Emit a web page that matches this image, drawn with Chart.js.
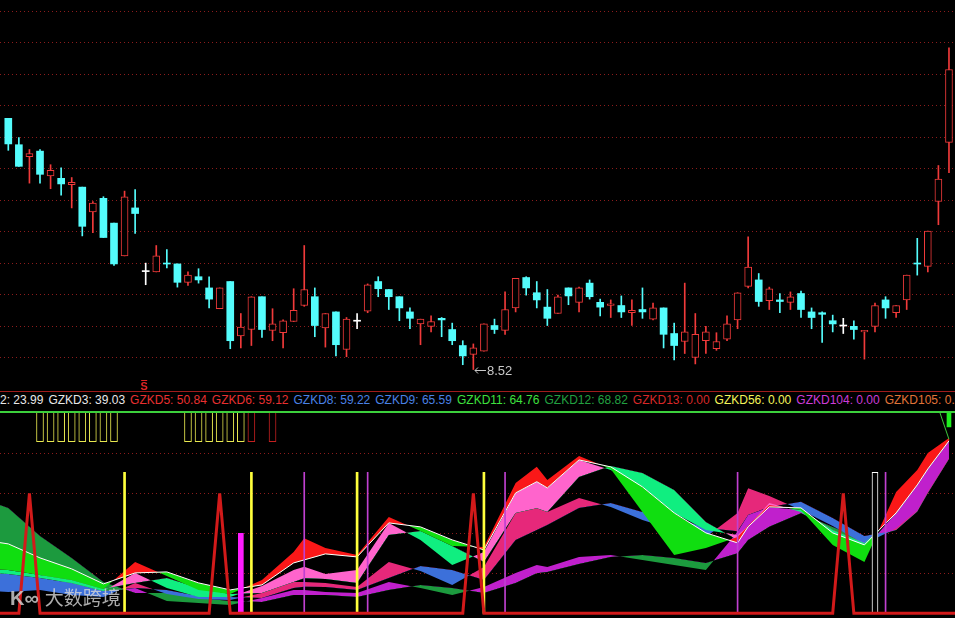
<!DOCTYPE html>
<html>
<head>
<meta charset="utf-8">
<title>GZKD</title>
<script src="https://cdn.jsdelivr.net/npm/chart.js@4.4.1/dist/chart.umd.min.js"></script>
<style>
  html, body { margin: 0; padding: 0; background: #000; width: 955px; height: 618px; overflow: hidden; }
  canvas { position: absolute; left: 0; display: block; }
  #price { top: 0; }
  #ind { top: 413px; }
  .rule { position: absolute; left: 0; width: 955px; }
  #legend { position: absolute; left: 0; top: 393px; width: 955px; height: 15px; overflow: hidden;
            display: flex; gap: 5px; white-space: nowrap;
            font: 12px "Liberation Sans", Arial, sans-serif; line-height: 14px; }
  #mark { position: absolute; left: 10px; top: 585px; color: rgba(215,215,215,0.8);
          font: 19px "Noto Sans CJK SC", sans-serif; line-height: 24px; white-space: nowrap; }
  #mark .logo { font: bold 20px "Liberation Sans", sans-serif; margin-right: 6px; }
</style>
</head>
<body>
<canvas id="price" width="955" height="390"></canvas>
<div class="rule" style="top:391px;height:1px;background:#a01c1c"></div>
<div id="legend"></div>
<div class="rule" style="top:411px;height:2px;background:#3cd03c"></div>
<canvas id="ind" width="955" height="205"></canvas>
<div id="mark"><span class="logo">K∞</span>大数跨境</div>

<script>
// ---- price panel (one candle per trading day, index 0..89)
let opens  = [11.66,11.33,11.18,11.25,10.94,10.91,10.83,10.80,10.49,10.66,10.35,9.94,10.54,9.75,9.74,9.85,9.84,9.61,9.68,9.54,
              9.28,9.62,8.94,9.02,9.43,9.01,8.98,9.12,9.32,9.43,9.04,9.24,8.77,9.13,9.25,9.62,9.52,9.43,9.24,9.09,
              9.06,9.16,9.02,8.82,8.71,8.75,9.07,9.01,9.29,9.67,9.48,9.30,9.22,9.54,9.36,9.60,9.36,9.32,9.32,9.23,
              9.27,9.15,9.29,8.97,8.87,8.67,8.88,8.78,8.90,9.14,9.56,9.64,9.38,9.39,9.36,9.47,9.24,9.23,9.13,9.07,
              9.06,8.99,9.06,9.39,9.23,9.39,9.85,9.81,10.62,11.36];
let highs  = [11.66,11.42,11.27,11.27,11.08,11.04,10.92,10.80,10.62,10.68,10.35,10.75,10.77,9.85,10.07,10.02,9.84,9.74,9.78,9.68,
              9.54,9.62,9.22,9.43,9.43,9.28,9.14,9.53,10.07,9.54,9.22,9.24,9.17,9.22,9.59,9.68,9.52,9.43,9.29,9.15,
              9.19,9.17,9.10,8.88,8.84,9.09,9.15,9.49,9.66,9.68,9.62,9.52,9.45,9.54,9.55,9.64,9.40,9.39,9.44,9.39,
              9.54,9.35,9.29,9.10,9.60,9.22,9.06,8.98,9.19,9.48,10.18,9.72,9.55,9.47,9.49,9.50,9.29,9.24,9.20,9.16,
              9.13,9.01,9.35,9.43,9.32,9.70,10.16,10.25,11.07,12.54];
let lows   = [11.26,11.06,10.85,10.85,10.78,10.70,10.54,10.19,10.23,10.17,9.82,9.94,10.22,9.58,9.74,9.79,9.55,9.57,9.60,9.29,
              9.28,8.78,8.79,8.82,8.92,8.88,8.79,9.12,9.31,8.93,8.80,8.69,8.68,9.03,9.23,9.43,9.27,9.13,9.03,8.83,
              8.99,8.93,8.83,8.58,8.52,8.75,8.97,8.96,9.24,9.45,9.29,9.07,9.22,9.33,9.24,9.40,9.19,9.17,9.17,9.07,
              9.16,9.14,8.79,8.64,8.72,8.59,8.72,8.76,8.88,9.03,9.54,9.31,9.27,9.23,9.27,9.17,9.03,8.86,8.99,8.97,
              8.90,8.65,8.99,9.16,9.17,9.27,9.70,9.74,10.33,10.98];
let closes = [11.34,11.06,11.22,10.96,11.01,10.84,10.86,10.31,10.60,10.17,9.84,10.68,10.47,9.75,9.94,9.84,9.61,9.70,9.64,9.40,
              9.54,8.88,9.05,9.43,9.02,9.09,9.13,9.26,9.52,9.07,9.22,8.83,9.15,9.13,9.58,9.53,9.43,9.29,9.16,9.15,
              9.12,9.14,8.88,8.69,8.79,9.09,9.02,9.27,9.66,9.54,9.39,9.16,9.43,9.44,9.54,9.43,9.30,9.34,9.24,9.26,
              9.24,9.29,8.96,8.82,8.99,8.96,8.99,8.87,9.09,9.48,9.80,9.37,9.53,9.37,9.43,9.27,9.17,9.21,9.09,9.07,
              9.02,9.01,9.32,9.29,9.32,9.70,9.84,10.25,10.90,12.27];
let priceGrid = [12.999,12.605,12.211,11.818,11.424,11.030,10.636,10.243,9.849,9.455,9.061,8.668];
let signalDay = 13;   // red "S" marker under the candles

// ---- header line
let legendNames  = ['2','GZKD3','GZKD5','GZKD6','GZKD8','GZKD9','GZKD11','GZKD12','GZKD13','GZKD56','GZKD104','GZKD105'];
let legendValues = [23.99,39.03,50.84,59.12,59.22,65.59,64.76,68.82,0,0,0,0];
let legendColors = ['#e8e8e8','#e8e8e8','#e83030','#e83030','#4a82e6','#4a82e6','#3ee03e','#22a040',
                    '#d82828','#f4f45a','#cc3cd8','#e07438'];

// ---- indicator panel, values sampled on these days (-1 is the day just off the left edge)
let bandDays = [-1,0,3,6,9,12,15,18,21,24,27,28,30,33,36,39,42,45,48,50,51,54,57,60,63,66,69,70,72,75,78,81,84,86,87,89];
let fast1 = [22.0,21.7,19.2,16.7,12.2,25.7,18.7,11.7,9.7,16.7,30.7,37.5,32.7,29.2,48.2,41.2,33.7,33.2,65.2,73.3,66.7,78.7,72.2,50.7,29.2,32.7,38.2,43.8,54.2,51.7,34.2,25.7,60.7,71.7,80.2,87.7];
let slow1 = [35.5,34.7,27.7,22.2,14.7,20.2,20.7,15.2,11.7,14.2,25.2,26.7,29.7,28.2,45.2,43.2,36.7,31.7,60.2,65.8,62.7,76.7,73.2,63.2,50.2,40.2,35.2,43.3,53.2,52.7,40.2,34.2,50.2,64.2,72.2,86.2];
let fast2 = [20.0,19.7,17.7,15.2,11.2,20.2,12.7,8.2,8.2,13.7,21.7,23.3,19.7,21.7,45.2,36.7,24.2,30.7,60.2,65.8,62.7,76.7,71.7,63.2,50.2,41.7,39.2,43.5,55.2,50.7,39.7,33.7,50.7,64.5,72.4,86.4];
let slow2 = [22.0,21.7,19.2,16.7,12.2,15.2,17.7,12.7,9.7,10.2,15.7,17.5,17.2,15.2,39.2,41.2,33.7,25.7,50.2,52.5,50.7,68.2,73.7,70.2,61.7,45.7,36.7,43.0,53.7,51.7,41.7,35.2,49.7,64.0,71.9,86.0];
let fast3 = [11.0,10.7,11.7,9.2,8.2,15.2,9.7,7.2,6.7,10.2,15.7,15.7,15.2,13.2,25.7,21.2,14.2,23.2,50.2,52.5,50.7,57.7,53.2,46.7,41.7,38.2,50.2,62.5,58.7,51.7,43.7,34.7,42.5,51.5,60.8,77.7];
let slow3 = [20.0,19.7,17.7,15.2,11.2,12.7,11.7,8.7,8.2,7.7,12.7,13.3,13.2,11.7,17.7,23.7,21.7,16.7,36.7,41.7,44.2,52.7,55.2,50.7,48.2,42.7,41.0,49.2,53.2,55.8,47.7,38.7,41.7,51.0,60.2,77.2];
let fast4 = [25.0,24.2,19.2,14.2,10.7,12.7,6.2,5.2,4.2,7.7,11.7,11.7,10.7,10.2,15.7,12.7,9.2,13.2,20.2,24.2,23.2,28.2,29.2,26.7,24.2,21.7,40.8,49.2,53.0,51.7,38.2,32.2,50.2,64.2,72.2,86.2];
let slow4 = [54.6,52.7,38.7,27.7,15.7,10.2,10.2,7.7,6.2,5.7,9.2,9.2,9.2,8.2,11.7,14.2,12.7,10.2,15.2,20.0,20.7,24.7,28.2,29.2,27.7,25.2,30.0,36.7,43.3,50.0,43.2,36.7,41.7,50.8,60.2,77.2];

let spikeDays = [2, 20, 44, 79];
let spikeTop = 60;
let yellowLineDays = [11, 23, 33, 45];
let purpleLineDays = [28, 34, 47, 69, 83];
let whiteBoxDays = [82];
let lineTop = 70.5;
let pinkStickDays = [22];
let pinkStickTop = 40;
let topYellowDays = [3,4,5,6,7,8,9,10,17,18,19,20,21,22];
let topRedDays = [23, 25];
let topStick = [85.8, 101];
let greenStickDays = [89];
let greenStick = [93.2, 101];

const RED = '#f03a3a', CYAN = '#54fcfc', WHITE = '#ffffff';
const xMin = -0.785, xMax = 89.57;

// header
const legend = document.getElementById('legend');
legendNames.forEach((n, i) => {
    let s = document.createElement('span');
    s.textContent = n + ': ' + legendValues[i].toFixed(2);
    s.style.color = legendColors[i];
    legend.appendChild(s);
});

// ---- candles
let days = opens.map((_, i) => i);
let candleColor = days.map(i => closes[i] > opens[i] ? RED : (closes[i] < opens[i] ? CYAN : WHITE));
let bodies = days.map(i => {
    let lo = Math.min(opens[i], closes[i]), hi = Math.max(opens[i], closes[i]);
    if (hi - lo < 0.0125) {
        let m = (hi + lo) / 2;
        lo = m - 0.00625;
        hi = m + 0.00625;
    }
    return {x: i, y: [lo, hi]};
});
let wicks = days.map(i => ({x: i, y: [lows[i], highs[i]]}));
let lowDay = lows.indexOf(Math.min(...lows));

const priceNotes = {
    id: 'priceNotes',
    afterDatasetsDraw(chart) {
        const {ctx, scales: {x, y}} = chart;
        ctx.save();
        // lowest price arrow
        let lx = Math.round(x.getPixelForValue(lowDay)), ly = Math.round(y.getPixelForValue(lows[lowDay])) + 0.5;
        ctx.strokeStyle = '#c8c8c8';
        ctx.fillStyle = '#c8c8c8';
        ctx.lineWidth = 1;
        ctx.beginPath();
        ctx.moveTo(lx + 2, ly); ctx.lineTo(lx + 13, ly);
        ctx.moveTo(lx + 2, ly); ctx.lineTo(lx + 5, ly - 3);
        ctx.moveTo(lx + 2, ly); ctx.lineTo(lx + 5, ly + 3);
        ctx.stroke();
        ctx.font = '13px "Liberation Sans", Arial, sans-serif';
        ctx.textBaseline = 'middle';
        ctx.fillText(lows[lowDay].toFixed(2), lx + 14, ly + 1);
        // S signal
        let sx = x.getPixelForValue(signalDay) - 1.5;
        ctx.fillStyle = '#e02424';
        ctx.strokeStyle = '#e02424';
        ctx.font = 'bold 11px "Liberation Sans", Arial, sans-serif';
        ctx.textAlign = 'center';
        ctx.textBaseline = 'alphabetic';
        ctx.fillText('S', sx, 389.5);
        ctx.beginPath();
        ctx.moveTo(sx - 3, 380.5); ctx.lineTo(sx + 3, 380.5);
        ctx.stroke();
        ctx.restore();
    }
};

new Chart(document.getElementById('price'), {
    type: 'bar',
    data: {
        datasets: [{
            data: bodies,
            backgroundColor: days.map(i => candleColor[i] === RED ? '#000' : candleColor[i]),
            borderColor: candleColor,
            borderWidth: days.map(i => candleColor[i] === RED ? 1 : 0),
            borderSkipped: false,
            barThickness: 7,
            grouped: false,
            order: 0
        }, {
            data: wicks,
            backgroundColor: candleColor,
            barThickness: 1,
            grouped: false,
            order: 1
        }]
    },
    options: {
        responsive: false,
        animation: false,
        devicePixelRatio: 1,
        layout: { padding: 0 },
        plugins: { legend: { display: false }, tooltip: { enabled: false } },
        scales: {
            x: { type: 'linear', min: xMin, max: xMax, offset: false, display: false },
            y: {
                min: 8.264, max: 13.139,
                afterBuildTicks: s => { s.ticks = priceGrid.map(v => ({value: v})); },
                ticks: { display: false },
                grid: { color: '#8c1c1c', drawTicks: false },
                border: { display: false, dash: [1, 3] }
            }
        }
    },
    plugins: [priceNotes]
});

// ---- indicator panel
function series(vals) {
    return bandDays.map((d, k) => ({x: d, y: vals[k]}));
}
function sticks(list, range) {
    return list.map(d => ({x: d, y: range}));
}
let spikeLine = [{x: -1, y: 0}];
spikeDays.forEach(d => {
    spikeLine.push({x: d - 1, y: 0}, {x: d, y: spikeTop}, {x: d + 1, y: 0});
});
spikeLine.push({x: 91, y: 0});

let bands = [
    {fast: fast1, slow: slow1, up: '#fa1818', down: '#10de10'},
    {fast: fast2, slow: slow2, up: '#ff64cc', down: '#10ee80'},
    {fast: fast3, slow: slow3, up: '#e6287a', down: '#3c70da'},
    {fast: fast4, slow: slow4, up: '#c020cc', down: '#1c9a3e'}
];

let indSets = [
    { type: 'line', data: spikeLine, borderColor: '#d21a1a', borderWidth: 3, pointRadius: 0, order: 1 },
    { type: 'line', data: [{x: 88.1, y: 101}, {x: 89, y: 87}], borderColor: '#3cc83c', borderWidth: 1, pointRadius: 0, order: 1 },
    { data: sticks(yellowLineDays, [0, lineTop]), backgroundColor: '#ffff3c', barThickness: 2, grouped: false, order: 2 },
    { data: sticks(purpleLineDays, [0, lineTop]), backgroundColor: '#c040d0', barThickness: 1, grouped: false, order: 2 },
    { data: sticks(whiteBoxDays, [0, lineTop]), backgroundColor: '#000', borderColor: '#fff', borderWidth: 1,
      borderSkipped: false, barThickness: 6, grouped: false, order: 2 },
    { data: sticks(pinkStickDays, [0, pinkStickTop]), backgroundColor: '#ff1cff', barThickness: 5, grouped: false, order: 2 },
    { data: sticks(topYellowDays, topStick), backgroundColor: '#000', borderColor: '#e8e850', borderWidth: 1,
      borderSkipped: false, barThickness: 7, grouped: false, order: 2 },
    { data: sticks(topRedDays, topStick), backgroundColor: '#000', borderColor: '#c42020', borderWidth: 1,
      borderSkipped: false, barThickness: 7, grouped: false, order: 2 },
    { data: sticks(greenStickDays, greenStick), backgroundColor: '#1ef01e', barThickness: 4, grouped: false, order: 2 }
];
bands.forEach((b, k) => {
    let slowIndex = indSets.length + 1;
    indSets.push({
        type: 'line', data: series(b.fast), borderColor: 'rgba(0,0,0,0)', borderWidth: 1, pointRadius: 0,
        fill: { target: slowIndex, above: b.up, below: b.down }, order: 10 + k
    });
    indSets.push({
        type: 'line', data: series(b.slow), pointRadius: 0, fill: false,
        borderColor: k === 0 ? '#ffffff' : 'rgba(0,0,0,0)', borderWidth: 1, order: k === 0 ? 9 : 10 + k
    });
});

new Chart(document.getElementById('ind'), {
    type: 'bar',
    data: { datasets: indSets },
    options: {
        responsive: false,
        animation: false,
        devicePixelRatio: 1,
        layout: { padding: 0 },
        plugins: { legend: { display: false }, tooltip: { enabled: false } },
        scales: {
            x: { type: 'linear', min: xMin, max: xMax, offset: false, display: false },
            y: {
                min: -2.35, max: 100.15,
                afterBuildTicks: s => { s.ticks = [20, 40, 60, 80].map(v => ({value: v})); },
                ticks: { display: false },
                grid: { color: '#8c1c1c', drawTicks: false },
                border: { display: false, dash: [1, 3] }
            }
        }
    }
});
</script>
</body>
</html>
